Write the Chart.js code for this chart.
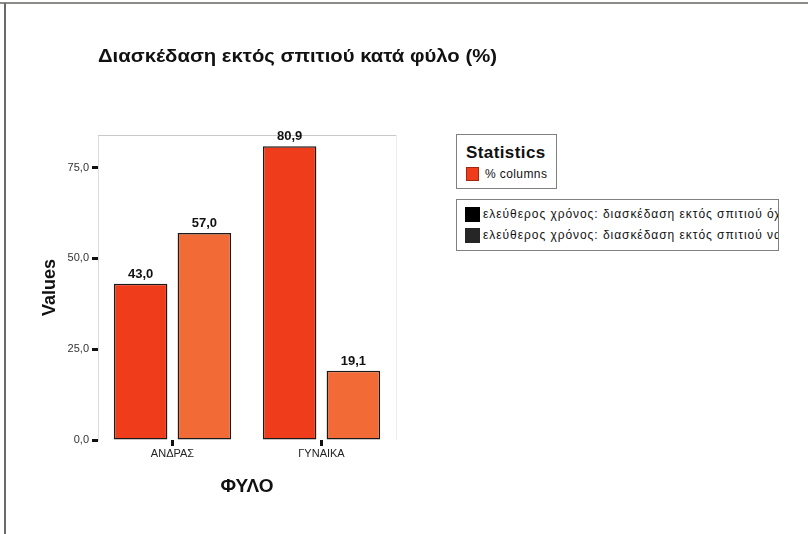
<!DOCTYPE html>
<html><head><meta charset="utf-8">
<script src="https://cdn.jsdelivr.net/npm/chart.js@4"></script>
<style>
html,body{margin:0;padding:0;background:#fff;}
#wrap{position:relative;width:808px;height:534px;overflow:hidden;background:#fff;}
canvas{position:absolute;left:0;top:0;}
.frameTop{position:absolute;left:0;top:2px;width:808px;height:2px;background:#8c8c88;}
.frameLeft{position:absolute;left:4px;top:3px;width:2px;height:531px;background:#6a6a6a;}
.leg{position:absolute;border:1px solid #808080;background:#fff;font-family:'Liberation Sans',Arial,sans-serif;color:#111;overflow:hidden;white-space:nowrap;}
.sq{position:absolute;}
.txt{position:absolute;}
</style></head><body>
<div id="wrap">
<canvas id="c" width="808" height="534"></canvas>
<div class="frameTop"></div>
<div class="frameLeft"></div>
<div class="leg" id="leg1" style="left:456px;top:134px;width:99px;height:53px;"></div>
<div class="leg" id="leg2" style="left:456px;top:199px;width:321px;height:50px;"></div>
</div>
<script>
const chartTitle = 'Διασκέδαση εκτός σπιτιού κατά φύλο (%)';
const categories = ['ΑΝΔΡΑΣ', 'ΓΥΝΑΙΚΑ'];
const seriesNames = ['ελεύθερος χρόνος: διασκέδαση εκτός σπιτιού όχι', 'ελεύθερος χρόνος: διασκέδαση εκτός σπιτιού ναι'];
const valuesNo = [43.0, 80.9];
const valuesYes = [57.0, 19.1];
const yTicks = [0, 25, 50, 75];
const yMax = 84;
const statsTitle = 'Statistics';
const statsItem = '% columns';
const xTitle = 'ΦΥΛΟ';
const yTitle = 'Values';

const barColors = ['#ef3d1b', '#f26b37'];
const legendSwatches = ['#000000', '#262626'];
const FONT = "'Liberation Sans', Arial, sans-serif";

// HTML legends
const leg1 = document.getElementById('leg1');
leg1.innerHTML =
  '<div class="txt" style="left:9px;top:8px;font-weight:bold;font-size:17px;letter-spacing:0.4px;">' + statsTitle + '</div>' +
  '<div class="sq" style="left:9px;top:32px;width:11px;height:12px;background:' + barColors[0] + ';border:1px solid #a02810;"></div>' +
  '<div class="txt" style="left:28px;top:32px;font-size:12px;letter-spacing:0.4px;">' + statsItem + '</div>';
const leg2 = document.getElementById('leg2');
leg2.innerHTML = seriesNames.map((n, i) =>
  '<div class="sq" style="left:8px;top:' + (7 + i * 21) + 'px;width:15px;height:15px;background:' + legendSwatches[i] + ';"></div>' +
  '<div class="txt" style="left:26px;top:' + (7 + i * 21) + 'px;font-size:12px;line-height:15px;letter-spacing:0.95px;">' + n + '</div>'
).join('');

const fmt = v => v.toFixed(1).replace('.', ',');

const framePlugin = {
  id: 'frame',
  beforeDatasetsDraw(chart) {
    const {ctx, chartArea: a} = chart;
    ctx.save();
    ctx.strokeStyle = '#c9c9c9';
    ctx.lineWidth = 1;
    ctx.beginPath();
    ctx.moveTo(a.left, a.top + 0.5); ctx.lineTo(a.right, a.top + 0.5);
    ctx.stroke();
    ctx.strokeStyle = '#ececec';
    ctx.beginPath();
    ctx.moveTo(a.right + 0.5, a.top); ctx.lineTo(a.right + 0.5, a.bottom);
    ctx.stroke();
    ctx.restore();
  },
  afterDraw(chart) {
    const {ctx} = chart;
    ctx.save();
    ctx.font = 'bold 19px ' + FONT;
    ctx.fillStyle = '#111';
    ctx.textBaseline = 'alphabetic';
    ctx.textAlign = 'left';
    const w = ctx.measureText(chartTitle).width;
    const sx = 399 / w;
    ctx.translate(98, 62);
    ctx.scale(sx, 1);
    ctx.fillText(chartTitle, 0, 0);
    ctx.restore();
  }
};

const labelPlugin = {
  id: 'vlabels',
  afterDatasetsDraw(chart) {
    const {ctx} = chart;
    ctx.save();
    ctx.font = 'bold 13px ' + FONT;
    ctx.fillStyle = '#111';
    ctx.textAlign = 'center';
    ctx.textBaseline = 'bottom';
    chart.data.datasets.forEach((ds, di) => {
      chart.getDatasetMeta(di).data.forEach((el, i) => {
        ctx.fillText(fmt(ds.data[i]), el.x, el.y - 3);
      });
    });
    ctx.restore();
  }
};

new Chart(document.getElementById('c'), {
  type: 'bar',
  data: {
    labels: categories,
    datasets: [
      {label: seriesNames[0], data: valuesNo, backgroundColor: barColors[0]},
      {label: seriesNames[1], data: valuesYes, backgroundColor: barColors[1]}
    ]
  },
  options: {
    responsive: false,
    animation: false,
    devicePixelRatio: 1,
    layout: {padding: {left: 0, top: 135, right: 412, bottom: 0}},
    datasets: {bar: {categoryPercentage: 0.856, barPercentage: 0.84, borderColor: '#1a1a1a', borderWidth: 1.5, borderSkipped: false}},
    plugins: {legend: {display: false}, title: {display: false}, tooltip: {enabled: false}},
    scales: {
      x: {
        offset: true,
        afterFit(s) { s.height = 94; },
        grid: {offset: false, drawOnChartArea: false, drawTicks: true, tickLength: 6, tickWidth: 3, tickColor: '#111'},
        border: {display: false},
        ticks: {font: {size: 11, family: FONT}, color: '#222', padding: 1, maxRotation: 0},
        title: {display: true, text: xTitle, font: {size: 19, weight: 'bold', family: FONT}, color: '#111', padding: {top: 0, bottom: 36}}
      },
      y: {
        min: 0, max: yMax,
        afterFit(s) { s.width = 98; },
        afterBuildTicks(s) { s.ticks = yTicks.map(v => ({value: v})); },
        grid: {drawOnChartArea: false, drawTicks: true, tickLength: 6, tickWidth: 3, tickColor: '#111'},
        border: {display: true, color: '#dcdcdc', width: 1},
        ticks: {font: {size: 11, family: FONT}, color: '#333', padding: 3, callback: v => fmt(v)},
        title: {display: true, text: yTitle, font: {size: 18, weight: 'bold', family: FONT}, color: '#111', padding: {top: 39, bottom: 0}}
      }
    }
  },
  plugins: [framePlugin, labelPlugin]
});
</script>
</body></html>
